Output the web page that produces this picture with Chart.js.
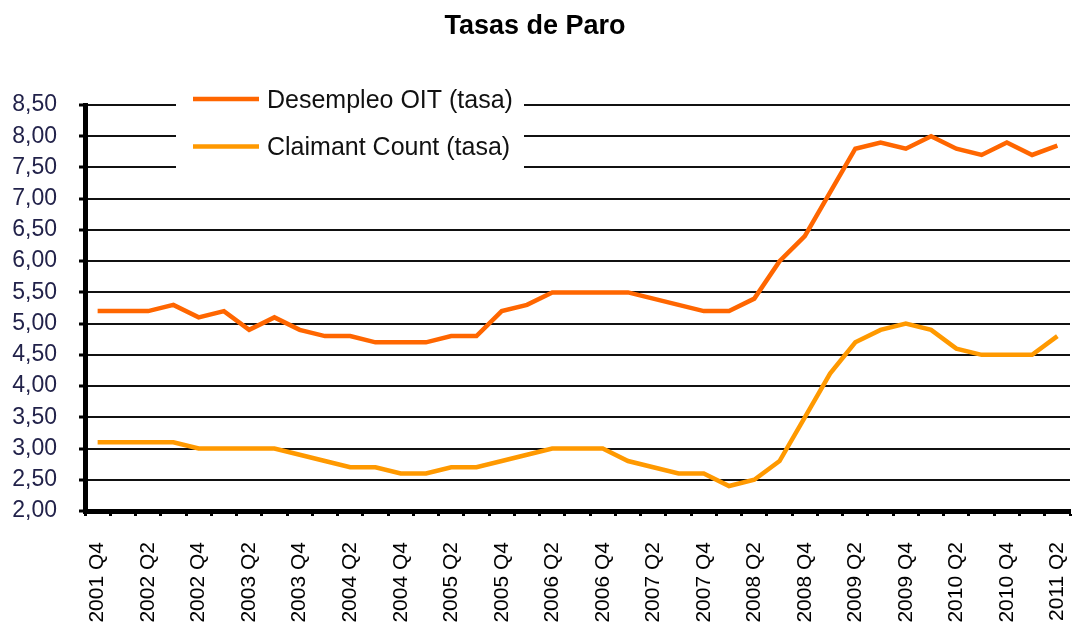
<!DOCTYPE html>
<html>
<head>
<meta charset="utf-8">
<title>Tasas de Paro</title>
<script src="https://cdn.jsdelivr.net/npm/chart.js@4"></script>
<style>
  html, body { margin: 0; padding: 0; background: #fff; }
  #wrap { width: 1074px; height: 628px; }
</style>
</head>
<body>
<div id="wrap"><canvas id="paroChart" width="1074" height="628"></canvas></div>
<script>
// Quarters 2001 Q4 .. 2011 Q2
const quarters = [
  "2001 Q4",
  "2002 Q1", "2002 Q2", "2002 Q3", "2002 Q4",
  "2003 Q1", "2003 Q2", "2003 Q3", "2003 Q4",
  "2004 Q1", "2004 Q2", "2004 Q3", "2004 Q4",
  "2005 Q1", "2005 Q2", "2005 Q3", "2005 Q4",
  "2006 Q1", "2006 Q2", "2006 Q3", "2006 Q4",
  "2007 Q1", "2007 Q2", "2007 Q3", "2007 Q4",
  "2008 Q1", "2008 Q2", "2008 Q3", "2008 Q4",
  "2009 Q1", "2009 Q2", "2009 Q3", "2009 Q4",
  "2010 Q1", "2010 Q2", "2010 Q3", "2010 Q4",
  "2011 Q1", "2011 Q2"
];

const desempleoOIT = [
  5.2, 5.2, 5.2, 5.3, 5.1, 5.2, 4.9, 5.1, 4.9, 4.8, 4.8, 4.7, 4.7,
  4.7, 4.8, 4.8, 5.2, 5.3, 5.5, 5.5, 5.5, 5.5, 5.4, 5.3, 5.2, 5.2,
  5.4, 6.0, 6.4, 7.1, 7.8, 7.9, 7.8, 8.0, 7.8, 7.7, 7.9, 7.7, 7.85
];

const claimantCount = [
  3.1, 3.1, 3.1, 3.1, 3.0, 3.0, 3.0, 3.0, 2.9, 2.8, 2.7, 2.7, 2.6,
  2.6, 2.7, 2.7, 2.8, 2.9, 3.0, 3.0, 3.0, 2.8, 2.7, 2.6, 2.6, 2.4,
  2.5, 2.8, 3.5, 4.2, 4.7, 4.9, 5.0, 4.9, 4.6, 4.5, 4.5, 4.5, 4.8
];

const seriesNames = ["Desempleo OIT (tasa)", "Claimant Count (tasa)"];
const seriesColors = ["#ff6600", "#ff9900"];

const yMin = 2, yMax = 8.5, yStep = 0.5;

const FONT = "'Liberation Sans', Arial, sans-serif";

// legend drawn inside the plot, over the top gridlines (like the Excel original)
const insideLegend = {
  id: "insideLegend",
  afterDatasetsDraw(chart) {
    const { ctx, chartArea } = chart;
    const x0 = chartArea.left + 91;
    const x1 = chartArea.left + 439;
    ctx.save();
    ctx.fillStyle = "#fff";
    ctx.fillRect(x0, chartArea.top - 25, x1 - x0, 92);
    ctx.font = "25px " + FONT;
    ctx.textBaseline = "middle";
    chart.data.datasets.forEach((ds, i) => {
      const y = chartArea.top - 6 + i * 47.5;
      ctx.strokeStyle = ds.borderColor;
      ctx.lineWidth = 4.5;
      ctx.beginPath();
      ctx.moveTo(x0 + 17, y);
      ctx.lineTo(x0 + 83, y);
      ctx.stroke();
      ctx.fillStyle = "#111";
      ctx.fillText(ds.label, x0 + 91, y + 2);
    });
    ctx.restore();
  }
};

const ctx = document.getElementById("paroChart").getContext("2d");

new Chart(ctx, {
  type: "line",
  data: {
    labels: quarters,
    datasets: [
      {
        label: seriesNames[0],
        data: desempleoOIT,
        borderColor: seriesColors[0],
        backgroundColor: seriesColors[0],
        borderWidth: 4.5,
        pointRadius: 0,
        tension: 0
      },
      {
        label: seriesNames[1],
        data: claimantCount,
        borderColor: seriesColors[1],
        backgroundColor: seriesColors[1],
        borderWidth: 4.5,
        pointRadius: 0,
        tension: 0
      }
    ]
  },
  options: {
    responsive: false,
    animation: false,
    layout: { padding: { top: 0, left: 0, right: 4, bottom: 0 } },
    plugins: {
      legend: { display: false },
      tooltip: { enabled: false },
      title: {
        display: true,
        text: "Tasas de Paro",
        color: "#000",
        font: { family: FONT, size: 27, weight: "bold" },
        padding: { top: 10, bottom: 62.6 }
      }
    },
    scales: {
      x: {
        offset: true,
        grid: {
          offset: true,
          drawOnChartArea: false,
          drawTicks: true,
          tickLength: 5,
          tickWidth: 3,
          tickColor: "#000"
        },
        border: { display: true, color: "#000", width: 5 },
        ticks: {
          autoSkip: false,
          minRotation: 90,
          maxRotation: 90,
          padding: 26,
          color: "#000",
          font: { family: FONT, size: 21 },
          callback: function (val, idx) {
            return idx % 2 === 0 ? this.getLabelForValue(val) : "";
          }
        },
        afterFit: (s) => {
          s.height = 117;
          s.paddingLeft = 0;
          s.paddingRight = 0;
        }
      },
      y: {
        min: yMin,
        max: yMax,
        grid: {
          color: "#111",
          lineWidth: 2,
          drawTicks: true,
          tickLength: 6,
          tickWidth: 3,
          tickColor: "#000"
        },
        border: { display: true, color: "#000", width: 5 },
        ticks: {
          stepSize: yStep,
          padding: 22,
          color: "#22224a",
          font: { family: FONT, size: 23 },
          callback: (v) => v.toFixed(2).replace(".", ",")
        },
        afterFit: (s) => { s.width = 85; }
      }
    }
  },
  plugins: [insideLegend]
});
</script>
</body>
</html>
